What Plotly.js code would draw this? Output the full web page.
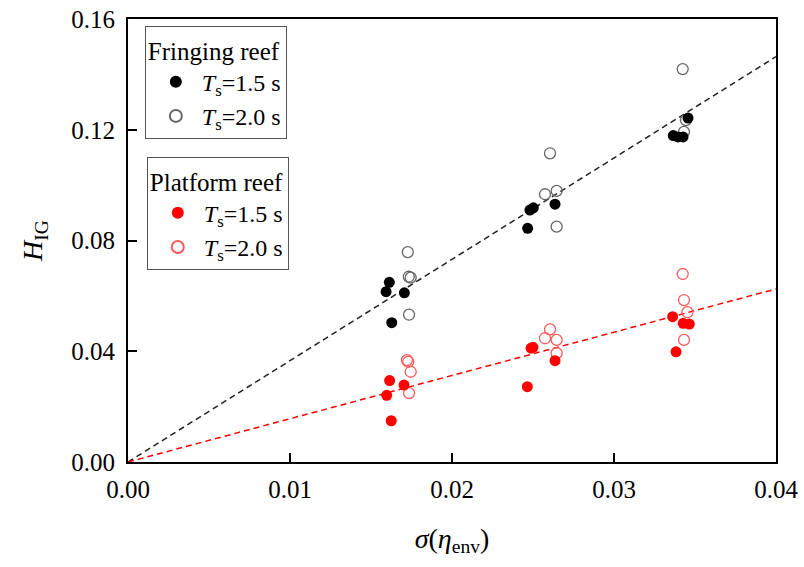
<!DOCTYPE html>
<html>
<head>
<meta charset="utf-8">
<script src="https://cdn.plot.ly/plotly-3.0.1.min.js"></script>
<style>
  html, body { margin: 0; padding: 0; background: #fff; }
  #chart { width: 804px; height: 567px; }
  #chart .xtick text, #chart .ytick text {
    font-family: "Liberation Serif", "Times New Roman", serif !important;
  }
</style>
</head>
<body>
<div id="chart"></div>
<script>
// Infragravity wave height vs. envelope standard deviation
// Fringing reef, Ts = 1.5 s
const fringingT15X = [0.01613, 0.01593, 0.01706, 0.01628, 0.02481, 0.02502, 0.02636, 0.02467, 0.03366, 0.03395, 0.03426, 0.03457];
const fringingT15Y = [0.0649, 0.0615, 0.0611, 0.0503, 0.0910, 0.0918, 0.0931, 0.0844, 0.1179, 0.1174, 0.1174, 0.1242];
// Fringing reef, Ts = 2.0 s
const fringingT20X = [0.01727, 0.01733, 0.01745, 0.01735, 0.02605, 0.02574, 0.02646, 0.02646, 0.03424, 0.03444, 0.03432];
const fringingT20Y = [0.0758, 0.0669, 0.0666, 0.0532, 0.1115, 0.0967, 0.0979, 0.0850, 0.1419, 0.1235, 0.1192];
// Platform reef, Ts = 1.5 s
const platformT15X = [0.01615, 0.01704, 0.01597, 0.01625, 0.02488, 0.02500, 0.02636, 0.02465, 0.03362, 0.03427, 0.03465, 0.03383];
const platformT15Y = [0.0294, 0.0278, 0.0241, 0.0149, 0.0411, 0.0414, 0.0366, 0.0272, 0.0525, 0.0501, 0.0498, 0.0398];
// Platform reef, Ts = 2.0 s
const platformT20X = [0.01722, 0.01730, 0.01745, 0.01735, 0.02605, 0.02574, 0.02646, 0.02646, 0.03424, 0.03432, 0.03453, 0.03432];
const platformT20Y = [0.0368, 0.0362, 0.0326, 0.0249, 0.0479, 0.0447, 0.0441, 0.0393, 0.0679, 0.0585, 0.0541, 0.0441];
// Linear fits through the origin
const fitX = [0, 0.04];
const fringingFitY = [0, 0.1464];
const platformFitY = [0, 0.0625];

const labelT15 = '&nbsp;<i>T</i><sub>s</sub>=1.5 s';
const labelT20 = '&nbsp;<i>T</i><sub>s</sub>=2.0 s';

const serif = 'Liberation Serif';
const RED = '#ff0000';

const traces = [
  { x: fitX, y: fringingFitY, mode: 'lines', showlegend: false,
    line: { color: '#222', width: 1.5, dash: '6px,4px' }, hoverinfo: 'skip' },
  { x: fitX, y: platformFitY, mode: 'lines', showlegend: false,
    line: { color: RED, width: 1.5, dash: '6px,4px' }, hoverinfo: 'skip' },
  { x: fringingT20X, y: fringingT20Y, mode: 'markers', name: labelT20, legend: 'legend', legendrank: 2,
    marker: { symbol: 'circle-open', size: 11, color: '#666', line: { width: 1.3, color: '#666' } } },
  { x: fringingT15X, y: fringingT15Y, mode: 'markers', name: labelT15, legend: 'legend', legendrank: 1,
    marker: { symbol: 'circle', size: 11, color: '#000' } },
  { x: platformT20X, y: platformT20Y, mode: 'markers', name: labelT20, legend: 'legend2', legendrank: 2,
    marker: { symbol: 'circle-open', size: 11, color: '#ff5a5a', line: { width: 1.3, color: '#ff5a5a' } } },
  { x: platformT15X, y: platformT15Y, mode: 'markers', name: labelT15, legend: 'legend2', legendrank: 1,
    marker: { symbol: 'circle', size: 11, color: RED } }
];

const axisCommon = {
  showline: true, mirror: true, linecolor: '#000', linewidth: 2,
  ticks: 'inside', ticklen: 9, tickwidth: 2, tickcolor: '#000',
  showgrid: false, zeroline: false, tickformat: '.2f',
  tickfont: { family: serif, size: 25, color: '#000' },
  automargin: false
};

const legendCommon = {
  bgcolor: '#fff', bordercolor: '#555', borderwidth: 1,
  font: { family: serif, size: 24, color: '#000' },
  xanchor: 'left', yanchor: 'top', traceorder: 'normal',
  itemsizing: 'constant', tracegroupgap: 0, indentation: 10
};

const layout = {
  width: 804, height: 567,
  margin: { l: 128, r: 28, t: 19, b: 105 },
  paper_bgcolor: '#fff', plot_bgcolor: '#fff',
  font: { family: serif, size: 25, color: '#000' },
  xaxis: Object.assign({}, axisCommon, {
    range: [0, 0.04], dtick: 0.01, ticklabelstandoff: 4,
    title: { text: '<i>σ</i>(<i>η</i><sub>env</sub>)', font: { family: serif, size: 28, color: '#000' }, standoff: 26 }
  }),
  yaxis: Object.assign({}, axisCommon, {
    range: [0, 0.16], dtick: 0.04, ticklabelstandoff: 6,
    title: { text: '<i>H</i><sub>IG</sub>', font: { family: serif, size: 28, color: '#000' }, standoff: 20 }
  }),
  legend: Object.assign({}, legendCommon, {
    x: 0.026, y: 0.984,
    title: { text: 'Fringing reef', font: { family: serif, size: 25, color: '#000' } }
  }),
  legend2: Object.assign({}, legendCommon, {
    x: 0.029, y: 0.688,
    title: { text: 'Platform reef', font: { family: serif, size: 25, color: '#000' } }
  }),
  showlegend: true
};

// keep the axis numbers in the serif face after every redraw
function serifTicks(gd) {
  gd.querySelectorAll('.xtick text, .ytick text').forEach(function (el) {
    el.style.setProperty('font-family', '"Liberation Serif", "Times New Roman", serif', 'important');
  });
}

Plotly.newPlot('chart', traces, layout, { staticPlot: true, displayModeBar: false }).then(function (gd) {
  serifTicks(gd);
  gd.on('plotly_afterplot', function () { serifTicks(gd); });
});
</script>
</body>
</html>
